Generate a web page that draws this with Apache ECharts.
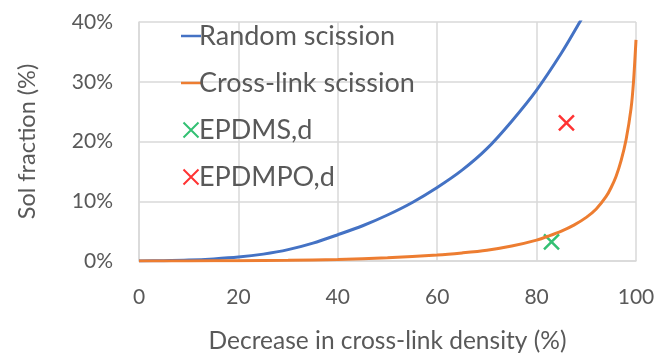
<!DOCTYPE html>
<html>
<head>
<meta charset="utf-8">
<script src="https://cdn.jsdelivr.net/npm/echarts@6/dist/echarts.min.js"></script>
<style>
  html, body { margin: 0; padding: 0; background: #fff; }
  #chart { width: 659px; height: 353px; }
</style>
</head>
<body>
<div id="chart"></div>
<script>
// Decrease in cross-link density (%) vs sol fraction (%)
const randomX = [0, 5, 10, 15, 20, 25, 30, 35, 40, 45, 50, 55, 60, 65, 70, 75, 80, 85, 88.7, 90];
const randomY = [0, 0.05, 0.15, 0.35, 0.65, 1.15, 1.9, 3.0, 4.4, 5.9, 7.7, 9.8, 12.3, 15.2, 18.8, 23.4, 28.6, 34.8, 40, 42];

const crossX = [0, 10, 20, 30, 40, 50, 60, 65, 70, 75, 80, 82.5, 85, 87.5, 90, 92, 94, 95, 96, 97, 98, 99, 99.5, 100];
const crossY = [0, 0.01, 0.05, 0.12, 0.25, 0.55, 1.0, 1.35, 1.8, 2.5, 3.5, 4.2, 5.0, 6.0, 7.3, 8.7, 10.8, 12.3, 14.2, 16.8, 20.3, 25.5, 30, 37];

const epdmsPoint = [83, 3.2];
const epdmpoPoint = [86, 23.1];

const xTicks = { min: 0, max: 100, interval: 20 };
const yTicks = { min: 0, max: 40, interval: 10 };

const textColor = '#595959';
const gridColor = '#d9d9d9';
const fontFamily = 'Lato, "Noto Sans", sans-serif';
const crossIcon = 'path://M0,0L10,10M10,0L0,10';
const lineIcon = 'path://M0,0L20,0L20,2.5L0,2.5Z';

const zip = (xs, ys) => xs.map((x, i) => [x, ys[i]]);

const chart = echarts.init(document.getElementById('chart'), null, { renderer: 'canvas' });
chart.setOption({
  animation: false,
  backgroundColor: '#fff',
  textStyle: { fontFamily: fontFamily },
  grid: { left: 139, top: 22, width: 497, height: 239, containLabel: false, outerBoundsMode: 'none' },
  legend: {
    orient: 'vertical',
    left: 176,
    top: 16,
    itemGap: 17,
    itemWidth: 20,
    itemHeight: 15,
    textStyle: { fontSize: 27, color: textColor, lineHeight: 30, padding: [0, 0, 0, -7], fontFamily: fontFamily },
    data: [
      { name: 'Random scission', icon: lineIcon, itemStyle: { color: '#4472c4', borderWidth: 0 } },
      { name: 'Cross-link scission', icon: lineIcon, itemStyle: { color: '#ed7d31', borderWidth: 0 } },
      { name: 'EPDMS,d', icon: crossIcon, itemStyle: { color: 'none', borderColor: '#00b050', borderWidth: 2 } },
      { name: 'EPDMPO,d', icon: crossIcon, itemStyle: { color: 'none', borderColor: '#ff0000', borderWidth: 2 } }
    ]
  },
  xAxis: {
    type: 'value',
    min: xTicks.min, max: xTicks.max, interval: xTicks.interval,
    name: 'Decrease in cross-link density (%)',
    nameLocation: 'middle',
    nameGap: 68,
    nameTextStyle: { fontSize: 24.5, color: textColor },
    axisLine: { lineStyle: { color: gridColor, width: 1.5 } },
    axisTick: { show: false },
    axisLabel: { fontSize: 21, color: textColor, margin: 26 },
    splitLine: { lineStyle: { color: gridColor, width: 1.5 } }
  },
  yAxis: {
    type: 'value',
    min: yTicks.min, max: yTicks.max, interval: yTicks.interval,
    name: 'Sol fraction (%)',
    nameLocation: 'middle',
    nameGap: 100,
    nameTextStyle: { fontSize: 23.5, color: textColor },
    axisLine: { show: true, lineStyle: { color: gridColor, width: 1.5 } },
    axisTick: { show: false },
    axisLabel: { fontSize: 21, color: textColor, margin: 26, formatter: v => v + '%' },
    splitLine: { lineStyle: { color: gridColor, width: 1.5 } }
  },
  series: [
    {
      name: 'Random scission', type: 'line', smooth: 0.3, showSymbol: false,
      data: zip(randomX, randomY), clip: true,
      lineStyle: { color: '#4472c4', width: 3 }, itemStyle: { color: '#4472c4' }
    },
    {
      name: 'Cross-link scission', type: 'line', smooth: 0.3, showSymbol: false,
      data: zip(crossX, crossY), clip: true,
      lineStyle: { color: '#ed7d31', width: 3 }, itemStyle: { color: '#ed7d31' }
    },
    {
      name: 'EPDMS,d', type: 'scatter', data: [epdmsPoint],
      symbol: crossIcon, symbolSize: 15,
      itemStyle: { color: 'none', borderColor: '#00b050', borderWidth: 2.5 }
    },
    {
      name: 'EPDMPO,d', type: 'scatter', data: [epdmpoPoint],
      symbol: crossIcon, symbolSize: 15,
      itemStyle: { color: 'none', borderColor: '#ff0000', borderWidth: 2.5 }
    }
  ]
});
</script>
</body>
</html>
